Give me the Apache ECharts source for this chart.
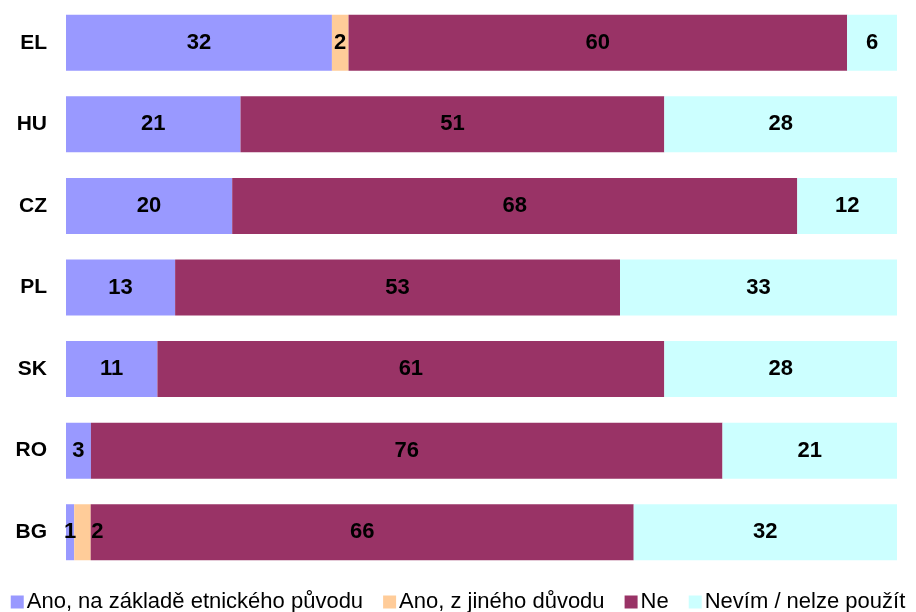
<!DOCTYPE html>
<html><head><meta charset="utf-8">
<script src="https://cdn.jsdelivr.net/npm/echarts@6/dist/echarts.min.js"></script>
<style>html,body{margin:0;padding:0;background:#fff}#c{width:916px;height:612px}</style>
</head><body><div id="c"></div>
<script>
const categories = ['EL','HU','CZ','PL','SK','RO','BG'];
const seriesNames = ['Ano, na základě etnického původu','Ano, z jiného důvodu','Ne','Nevím / nelze použít'];
const anoEtnicky = [32,21,20,13,11,3,1];
const anoJiny    = [2,0,0,0,0,0,2];
const ne         = [60,51,68,53,61,76,66];
const nevim      = [6,28,12,33,28,21,32];
const colors = ['#9999FF','#FFCC99','#993366','#CCFFFF'];

const raw = [anoEtnicky, anoJiny, ne, nevim];
const totals = categories.map((_, i) => raw.reduce((s, a) => s + a[i], 0));

const chart = echarts.init(document.getElementById('c'));
chart.setOption({
  animation:false,
  textStyle:{fontFamily:'Liberation Sans, Arial, sans-serif'},
  grid:{left:66,right:19,top:2,bottom:39,containLabel:false},
  xAxis:{type:'value',min:0,max:100,show:false},
  yAxis:{type:'category',data:categories,inverse:true,
    axisLine:{show:false},axisTick:{show:false},
    axisLabel:{fontSize:21,fontWeight:'bold',color:'#000',margin:19}},
  legend:{top:586,left:'center',itemWidth:13,itemHeight:13,itemGap:20,icon:'rect',
    textStyle:{fontSize:22,color:'#000',padding:[0,0,0,-2]},data:seriesNames},
  series: raw.map((arr, si) => ({
    name: seriesNames[si], type:'bar', stack:'all', barWidth:56,
    itemStyle:{color:colors[si]},
    data: arr.map((v, i) => {
      const d = {value: v / totals[i] * 100};
      if (si === 1 && i === 6) d.label = {offset:[15,0]};
      return d;
    }),
    label:{show:true,position:'inside',fontSize:22,fontWeight:'bold',color:'#000',
      formatter: p => raw[si][p.dataIndex] === 0 ? '' : String(raw[si][p.dataIndex])}
  }))
});
</script></body></html>
